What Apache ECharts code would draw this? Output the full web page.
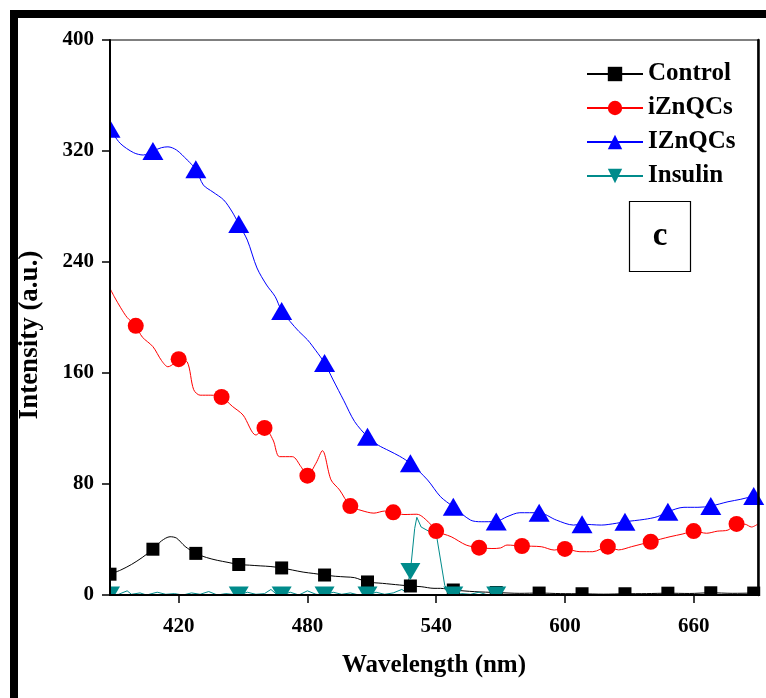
<!DOCTYPE html>
<html>
<head>
<meta charset="utf-8">
<script src="https://cdn.jsdelivr.net/npm/echarts@6/dist/echarts.min.js"></script>
<style>html,body{margin:0;padding:0;background:#fff}#c{width:766px;height:698px}</style>
</head>
<body>
<div id="c"></div>
<script>
// ---- data ----
const xTicks = [420, 480, 540, 600, 660];
const yTicks = [0, 80, 160, 240, 320, 400];

const controlX = [388,393,398,403,408,412,416,419,423,428,433,438,443,448,453,458,463,468,473,478,483,488,493,498,502,508,515,523,528,533,539,542,548,558,568,579,588,598,608,618,628,638,648,658,668,678,688,690];
const controlY = [15,18,22,27,33,39,42,41,35,30,27,25,23.5,22,21.5,21,20.5,19.5,18,16.5,15.5,14.4,13.5,13,12.5,9.4,8.4,7.2,6.5,6,4.8,4.8,3.6,2.4,1.8,1.2,1.4,1,0.9,0.6,0.9,1,1.3,1.1,1.6,1.2,1.4,1.5];
const controlMarks = [388,408,428,448,468,488,508,528,548,568,588,608,628,648,668,688];

const izX = [388,390,393,396,400,403,408,412,415,418,420,424,427,430,435,440,445,450,456,460,464,467,473,477,480,484,487,491,495,500,505,511,516,520,525,531,537,540,547,554,560,566,570,573,580,589,595,600,607,613,620,625,631,640,649,655,660,666,671,676,680,684,687,690];
const izY = [221,215,207,200,194,186,179,169,164.5,167,170,168,148,144,144,142.7,136,129.7,115.3,120.4,111.7,99.7,99.7,92.5,86,95,104,83,75.7,64.1,61,59,60.5,59.6,58,58.2,51.7,46.1,42,36,34.1,33.5,33.9,36,35.3,34.8,32.4,33.2,31.2,31.2,34.8,32.5,34.8,38.4,42,44,46.1,44.5,46,46.8,51.2,51,49,51.2];
const izMarks = [400,420,440,460,480,500,520,540,560,580,600,620,640,660,680];

const IZX = [388,392.7,399,403.5,408,412,415,419,424,428,431.5,436,441,445,448,452,456.5,461,465,468,472,476,480,484,488,492,497,502,508,513,518,523,528,536,542,548,556,561,568,573,579,588,596,604,608,617,624,628,637,643,648,655.5,662,668,676,682,688,690];
const IZY = [336,325.6,318.8,317.1,320,322.4,323,320.7,313.5,306.8,295.5,290.4,284.7,276,267.4,255.8,235.7,223.4,215,204.7,197,190,184,176,167.2,155,140,125,114.1,108,104,100,94.9,82.9,70.9,63.6,54,52.8,53,56.4,59.3,59.3,54,50.4,51,50.4,51.7,52.8,54.5,56.4,60,63.2,63.2,64.1,67.2,69,71.3,72];
const IZMarks = [388,408,428,448,468,488,508,528,548,568,588,608,628,648,668,688];

const insX = [388,392,396,398,402,405,410,414,418,422,426,430,434,438,442,448,452,456,460,463,466,468,472,476,480,484,488,492,496,500,504,508,512,516,520,524,526,528,530,531,533,537,540,544,546,548,552,556,560,564,568,571];
const insY = [0,0.5,3,0.5,1.5,0,2,0.5,1,0,1.5,0.5,2.5,0,1,0,2,0.5,1,4,0,0,2,0,3,0.5,0,2,0.5,1.5,0,0,2,0.5,1.5,4,2,17,48,56,49,45.6,44.5,7,2,0,1,0.5,2,0,0,0];
const insMarks = [388,448,468,488,508,528,548,568];

// ---- build ----
function build(xs, ys, marks) {
  const s = new Set(marks);
  return xs.map((x, i) => s.has(x) ? [x, ys[i]] : { value: [x, ys[i]], symbol: 'none' });
}
const serif = 'Liberation Serif';
const downTri = 'path://M0,0 L20,0 L10,17 Z';

const chart = echarts.init(document.getElementById('c'), null, { renderer: 'canvas' });
chart.setOption({
  animation: false,
  backgroundColor: '#fff',
  grid: { left: 110, right: 8, top: 40, bottom: 103, show: true, borderColor: '#000', borderWidth: 1, containLabel: false },
  legend: {
    orient: 'vertical', left: 581, top: 56,
    itemWidth: 56, itemHeight: 18, itemGap: 8,
    textStyle: { fontFamily: serif, fontWeight: 'bold', fontSize: 25, color: '#000', lineHeight: 26 },
    data: ['Control', 'iZnQCs', 'IZnQCs', 'Insulin']
  },
  xAxis: [{
    type: 'value', min: 388, max: 690, z: 20,
    name: 'Wavelength (nm)', nameLocation: 'middle', nameGap: 58,
    nameTextStyle: { fontFamily: serif, fontWeight: 'bold', fontSize: 25, color: '#000' },
    axisLine: { show: true, onZero: false, lineStyle: { color: '#000', width: 2 } },
    axisTick: { show: true, inside: false, length: 8, customValues: xTicks, lineStyle: { color: '#000', width: 1.5 } },
    axisLabel: { customValues: xTicks, margin: 21, fontFamily: serif, fontWeight: 'bold', fontSize: 21, color: '#000' },
    splitLine: { show: false }
  }],
  yAxis: [{
    type: 'value', min: 0, max: 400, interval: 80, z: 20,
    axisLine: { show: true, lineStyle: { color: '#000', width: 2 } },
    axisTick: { show: true, inside: false, length: 8, lineStyle: { color: '#000', width: 1.5 } },
    axisLabel: { margin: 16, fontFamily: serif, fontWeight: 'bold', fontSize: 21, color: '#000' },
    splitLine: { show: false }
  }, {
    type: 'value', min: 0, max: 400, position: 'right', z: 20,
    axisLine: { show: true, lineStyle: { color: '#000', width: 2.5 } },
    axisTick: { show: false }, axisLabel: { show: false }, splitLine: { show: false }
  }],
  graphic: [
    // mask strips outside the plot so markers are cut at the axes
    { type: 'rect', z: 10, silent: true, shape: { x: 0, y: 596, width: 766, height: 12 }, style: { fill: '#fff' } },
    { type: 'rect', z: 10, silent: true, shape: { x: 96, y: 30, width: 13, height: 578 }, style: { fill: '#fff' } },
    // outer frame
    { type: 'rect', z: 30, silent: true, shape: { x: 14, y: 14, width: 800, height: 760 }, style: { fill: 'none', stroke: '#000', lineWidth: 8 } },
    // y axis title
    { type: 'text', z: 31, silent: true, x: 30, y: 335, rotation: Math.PI / 2,
      style: { text: 'Intensity (a.u.)', align: 'center', verticalAlign: 'middle', fontFamily: serif, fontWeight: 'bold', fontSize: 27, fill: '#000' } },
    // panel label box
    { type: 'rect', z: 30, silent: true, shape: { x: 629.5, y: 201.5, width: 61, height: 70 }, style: { fill: '#fff', stroke: '#000', lineWidth: 1.2 } },
    { type: 'text', z: 31, silent: true, style: { x: 660, y: 236, text: 'c', align: 'center', verticalAlign: 'middle', fontFamily: serif, fontWeight: 'bold', fontSize: 33, fill: '#000' } }
  ],
  series: [
    { name: 'Control', type: 'line', data: build(controlX, controlY, controlMarks), smooth: 0.3,
      symbol: 'rect', symbolSize: 13, clip: false,
      lineStyle: { color: '#000', width: 1 }, itemStyle: { color: '#000' } },
    { name: 'iZnQCs', type: 'line', data: build(izX, izY, izMarks), smooth: 0.3,
      symbol: 'circle', symbolSize: 16, clip: false,
      lineStyle: { color: '#ff0000', width: 1 }, itemStyle: { color: '#ff0000' } },
    { name: 'IZnQCs', type: 'line', data: build(IZX, IZY, IZMarks), smooth: 0.3,
      symbol: 'triangle', symbolSize: [21, 18], clip: false,
      lineStyle: { color: '#0000ff', width: 1 }, itemStyle: { color: '#0000ff' } },
    { name: 'Insulin', type: 'line', data: build(insX, insY, insMarks), smooth: false,
      symbol: downTri, symbolSize: [20, 17], clip: false,
      lineStyle: { color: '#008b8b', width: 1 }, itemStyle: { color: '#008b8b' } }
  ]
});
</script>
</body>
</html>
